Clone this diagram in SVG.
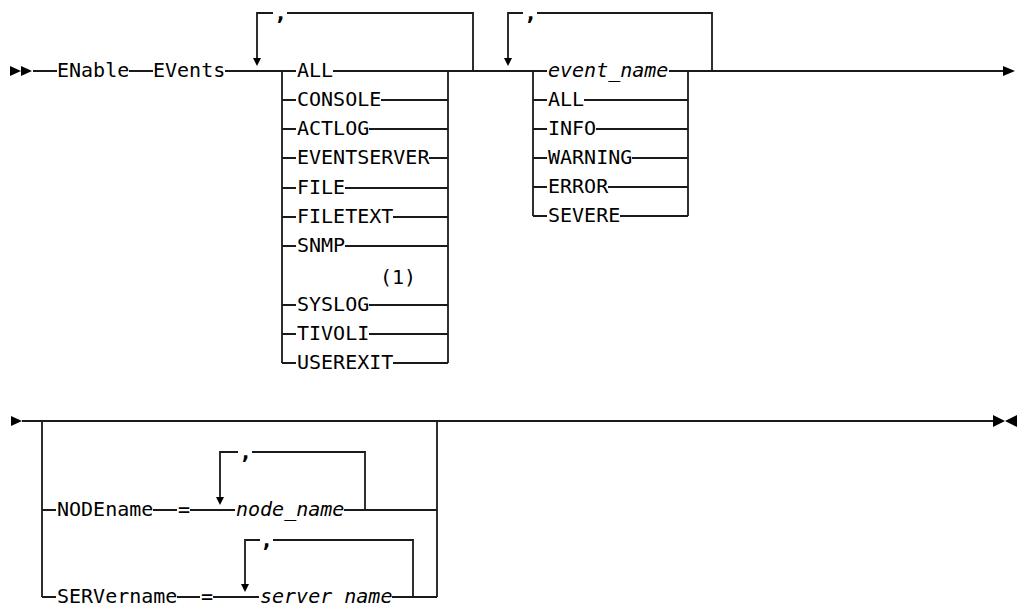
<svg xmlns="http://www.w3.org/2000/svg" width="1018" height="608" viewBox="0 0 1018 608">
<style>
.t{font-family:"DejaVu Sans Mono","Liberation Mono",monospace;font-size:20px;fill:#000}
.i{font-style:italic}
.k{font-family:"DejaVu Sans Mono","Liberation Mono",monospace;font-size:22px;font-weight:bold;fill:#000}
.c{fill:none;stroke:#1a1a1a;stroke-width:1.8}
.a{fill:#000}
</style>
<rect width="1018" height="608" fill="#fff"/>
<g id="connectors">
<path class="c" d="M33,71H57M129,71H153M225,71H296M333,71H448M448,71H547M669,71H1003"/>
<path class="a" d="M10,66L21,71L10,76ZM21,66L32,71L21,76ZM1003,66L1015,71L1003,76Z"/>
<path class="c" d="M257,58V13H273M287,13H473V71"/>
<path class="a" d="M253,58H261L257,66Z"/>
<path class="c" d="M282,71V363M448,71V363"/>
<path class="c" d="M282,100H296M381,100H448M282,129H296M369,129H448M282,158H296M429,158H448M282,188H296M345,188H448M282,217H296M393,217H448M282,246H296M345,246H448M282,305H296M369,305H448M282,334H296M369,334H448M282,363H296M393,363H448"/>
<path class="c" d="M508,58V13H523M537,13H712V71"/>
<path class="a" d="M504,58H512L508,66Z"/>
<path class="c" d="M533,71V216M688,71V216"/>
<path class="c" d="M533,100H547M584,100H688M533,129H547M596,129H688M533,158H547M632,158H688M533,187H547M608,187H688M533,216H547M620,216H688"/>
<path class="c" d="M22,421H993"/>
<path class="a" d="M11,416L22,421L11,426ZM993,415L1005,421L993,427ZM1017,415L1005,421L1017,427Z"/>
<path class="c" d="M42,421V597M437,421V597"/>
<path class="c" d="M42,510H56M153,510H177M190,510H235M344,510H437"/>
<path class="c" d="M220,497V452H238M252,452H365V510"/>
<path class="a" d="M216,497H224L220,505Z"/>
<path class="c" d="M42,597H56M177,597H200M213,597H259M392,597H437"/>
<path class="c" d="M245,584V540H260M273,540H413V597"/>
<path class="a" d="M241,584H249L245,592Z"/>
</g>
<g id="kw-enable"><text class="t" x="57" y="77">ENable</text></g>
<g id="kw-events"><text class="t" x="153" y="77">EVents</text></g>
<g id="sep1"><text class="k" x="274" y="20">,</text></g>
<g id="opt-all"><text class="t" x="297" y="77">ALL</text></g>
<g id="opt-console"><text class="t" x="297" y="106">CONSOLE</text></g>
<g id="opt-actlog"><text class="t" x="297" y="135">ACTLOG</text></g>
<g id="opt-eventserver"><text class="t" x="297" y="164">EVENTSERVER</text></g>
<g id="opt-file"><text class="t" x="297" y="194">FILE</text></g>
<g id="opt-filetext"><text class="t" x="297" y="223">FILETEXT</text></g>
<g id="opt-snmp"><text class="t" x="297" y="252">SNMP</text></g>
<g id="note1"><text class="t" x="380" y="284">(1)</text></g>
<g id="opt-syslog"><text class="t" x="297" y="311">SYSLOG</text></g>
<g id="opt-tivoli"><text class="t" x="297" y="340">TIVOLI</text></g>
<g id="opt-userexit"><text class="t" x="297" y="369">USEREXIT</text></g>
<g id="sep2"><text class="k" x="524" y="20">,</text></g>
<g id="ev-name"><text class="t i" x="548" y="77">event_name</text></g>
<g id="ev-all"><text class="t" x="548" y="106">ALL</text></g>
<g id="ev-info"><text class="t" x="548" y="135">INFO</text></g>
<g id="ev-warning"><text class="t" x="548" y="164">WARNING</text></g>
<g id="ev-error"><text class="t" x="548" y="193">ERROR</text></g>
<g id="ev-severe"><text class="t" x="548" y="222">SEVERE</text></g>
<g id="kw-nodename"><text class="t" x="57" y="516">NODEname</text></g>
<g id="eq1"><text class="t" x="178" y="516">=</text></g>
<g id="sep3"><text class="k" x="239" y="459">,</text></g>
<g id="node-name"><text class="t i" x="236" y="516">node_name</text></g>
<g id="kw-servername"><text class="t" x="57" y="603">SERVername</text></g>
<g id="eq2"><text class="t" x="201" y="603">=</text></g>
<g id="sep4"><text class="k" x="260" y="547">,</text></g>
<g id="server-name"><text class="t i" x="260" y="603">server name</text></g>
</svg>
